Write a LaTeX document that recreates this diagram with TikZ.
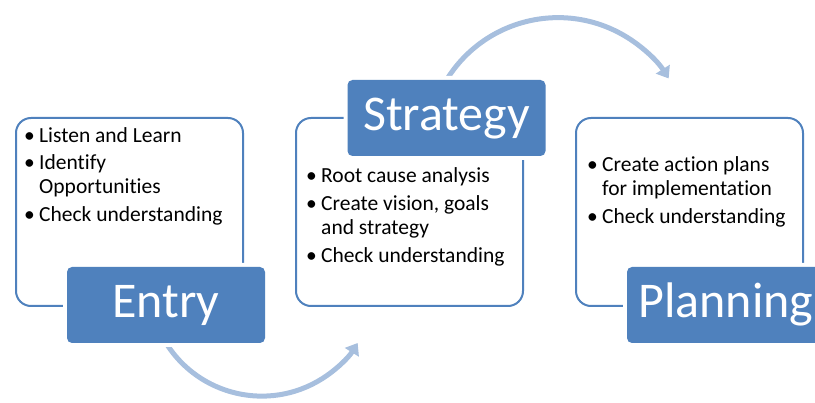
\documentclass[tikz,border=0pt]{standalone}
\usepackage{fontspec}
\setmainfont{Carlito}[Ligatures=NoCommon]
\usetikzlibrary{arrows.meta}
\definecolor{ublue}{RGB}{79,129,189}
\definecolor{larrow}{RGB}{167,191,222}
\newcommand{\bul}{\makebox[15pt][l]{•}}
\begin{document}
\begin{tikzpicture}[x=1pt,y=-1pt,
  box/.style={draw=ublue, line width=2pt, rounded corners=15pt, anchor=north west, inner sep=0pt},
  lbl/.style={fill=ublue, rounded corners=5pt, preaction={draw=white,line width=8pt},
    text=white, font=\fontsize{50}{60}\selectfont, minimum width=198pt, minimum height=76pt,
    text height=32pt, text depth=6pt, inner sep=0pt},
  flow/.style={draw=larrow, line width=5pt, -{Triangle[width=16pt,length=11pt]}},
  items/.style={anchor=base west, inner sep=0pt, align=left, font=\fontsize{21.5}{24}\selectfont}]
\useasboundingbox (0,0) rectangle (815,403);
\clip (0,0) rectangle (815,403);
% outline boxes
\node[box, minimum width=227pt, minimum height=188pt] (entrybox) at (15,117) {};
\node[box, minimum width=227pt, minimum height=188pt] (strategybox) at (295,117) {};
\node[box, minimum width=227pt, minimum height=188pt] (planningbox) at (575,117) {};
% bullet texts
\node[items] (entrytext) at (24,143) {\begin{tabular}[t]{@{}l@{}l@{}}
\bul & Listen and Learn\\[3pt]
\bul & Identify\\
 & Opportunities\\[4pt]
\bul & Check understanding
\end{tabular}};
\node[items] (strategytext) at (306,183) {\begin{tabular}[t]{@{}l@{}l@{}}
\bul & Root cause analysis\\[4pt]
\bul & Create vision,\ goals\\
 & and strategy\\[4pt]
\bul & Check understanding
\end{tabular}};
\node[items] (planningtext) at (587,172) {\begin{tabular}[t]{@{}l@{}l@{}}
\bul & Create action plans\\
 & for implementation\\[4pt]
\bul & Check understanding
\end{tabular}};
% arrows (behind labels)
\coordinate (entrystart) at (166,343);
\coordinate (strategystart) at (446.5,80);
\draw[flow] (entrystart) arc[start angle=148, end angle=32, radius=113];
\draw[flow] (strategystart) arc[start angle=211.6, end angle=327.6, radius=131];
% labels
\node[lbl] (entry) at (166,305) {Entry};
\node[lbl] (strategy) at (446.5,118) {Strategy};
\node[lbl] (planning) at (726,305) {Planning};
\end{tikzpicture}
\end{document}
